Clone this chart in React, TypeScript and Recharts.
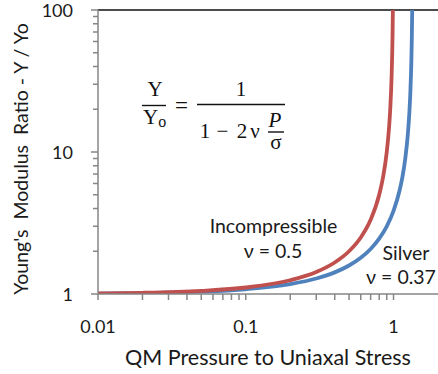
import { Label, Line, LineChart, ReferenceLine, XAxis, YAxis } from 'recharts';

// Pressure-to-stress ratio (P/σ) and modulus ratio Y/Yo for each material.
const incompressibleX = [0.01, 0.02, 0.05, 0.1, 0.2, 0.3, 0.4, 0.5, 0.6, 0.7, 0.8, 0.85, 0.9, 0.93, 0.95, 0.97, 0.98, 0.985, 0.99];
const incompressibleY = [1.01, 1.02, 1.053, 1.111, 1.25, 1.429, 1.667, 2.0, 2.5, 3.33, 5.0, 6.67, 10.0, 14.3, 20.0, 33.3, 50.0, 66.7, 100];

const silverX = [0.01, 0.02, 0.05, 0.1, 0.2, 0.3, 0.4, 0.5, 0.6, 0.7, 0.8, 0.9, 1.0, 1.1, 1.15, 1.2, 1.25, 1.28, 1.3, 1.32, 1.33, 1.338];
const silverY = [1.007, 1.015, 1.038, 1.08, 1.174, 1.285, 1.42, 1.587, 1.799, 2.075, 2.451, 2.994, 3.846, 5.376, 6.711, 8.929, 13.33, 18.94, 26.32, 43.1, 63.3, 100];

const xTicks = [
  0.01, 0.02, 0.03, 0.04, 0.05, 0.06, 0.07, 0.08, 0.09,
  0.1, 0.2, 0.3, 0.4, 0.5, 0.6, 0.7, 0.8, 0.9, 1,
];
const xMajor = [0.01, 0.1, 1];
const yTicks = [1, 2, 3, 4, 5, 6, 7, 8, 9, 10, 20, 30, 40, 50, 60, 70, 80, 90, 100];
const yMajor = [1, 10, 100];

const incompressible = incompressibleX.map((x, i) => ({ x, y: incompressibleY[i] }));
const silver = silverX.map((x, i) => ({ x, y: silverY[i] }));

const W = 438;
const H = 374;
const PLOT_LEFT = 98;
const PLOT_BOTTOM = 294;
const AXIS_GREY = '#868686';
const INK = '#1a1a1a';
const FONT = 'Lato, "Open Sans", sans-serif';
const MATH_FONT = '"Liberation Serif", "DejaVu Serif", serif';
const RED = '#C0504D';
const BLUE = '#4F81BD';

function YTick({ y, payload }: any) {
  const major = yMajor.includes(payload.value);
  return (
    <g>
      <line x1={PLOT_LEFT - (major ? 7 : 5)} x2={PLOT_LEFT} y1={y} y2={y} stroke={AXIS_GREY} strokeWidth={1.5} />
      {major && (
        <text x={73} y={y} textAnchor="end" dominantBaseline="central" fontSize={18} fill={INK} fontFamily={FONT}>
          {payload.value}
        </text>
      )}
    </g>
  );
}

function XTick({ x, payload }: any) {
  const major = xMajor.includes(payload.value);
  return (
    <g>
      <line x1={x} x2={x} y1={PLOT_BOTTOM} y2={PLOT_BOTTOM + 6} stroke={AXIS_GREY} strokeWidth={1.5} />
      {major && (
        <text x={x} y={PLOT_BOTTOM + 32} textAnchor="middle" dominantBaseline="central" fontSize={18} fill={INK} fontFamily={FONT}>
          {payload.value}
        </text>
      )}
    </g>
  );
}

// Y/Yo = 1 / (1 - 2ν P/σ), set piece by piece
function Equation() {
  const t = { fontFamily: MATH_FONT, fontSize: 21, fill: '#111' };
  return (
    <g>
      <text x={155} y={96} textAnchor="middle" {...t}>Y</text>
      <line x1={142} x2={166} y1={105.5} y2={105.5} stroke="#111" strokeWidth={1.4} />
      <text x={143} y={124} {...t}>
        Y<tspan fontSize={16} dy={3}>o</tspan>
      </text>
      <text x={181.5} y={113} textAnchor="middle" {...t} fontSize={23}>=</text>
      <line x1={197} x2={285} y1={104.5} y2={104.5} stroke="#111" strokeWidth={1.4} />
      <text x={241} y={96} textAnchor="middle" {...t}>1</text>
      <text x={205} y={138} textAnchor="middle" {...t}>1</text>
      <text x={222.5} y={138} textAnchor="middle" {...t}>−</text>
      <text x={242} y={138} textAnchor="middle" {...t}>2</text>
      <text x={255} y={138} textAnchor="middle" {...t}>ν</text>
      <text x={275} y={127} textAnchor="middle" fontStyle="italic" {...t}>P</text>
      <line x1={268} x2={284} y1={132} y2={132} stroke="#111" strokeWidth={1.4} />
      <text x={276} y={149} textAnchor="middle" {...t}>σ</text>
    </g>
  );
}

function SeriesNotes() {
  const t = { fontFamily: FONT, fontSize: 19.5, fill: INK, textAnchor: 'middle' as const, dominantBaseline: 'central' as const };
  return (
    <g>
      <text x={273.5} y={225} {...t}>Incompressible</text>
      <text x={273} y={250} {...t}>ν = 0.5</text>
      <text x={406} y={252} {...t}>Silver</text>
      <text x={401} y={276} {...t}>ν = 0.37</text>
    </g>
  );
}

export default function App() {
  return (
    <div style={{ position: 'absolute', left: 0, top: 0, width: W, height: H, background: '#fff' }}>
      <LineChart width={W} height={H} margin={{ top: 10, right: 0, bottom: 0, left: 0 }}>
        <XAxis
          dataKey="x"
          type="number"
          scale="log"
          domain={[0.01, 2]}
          allowDataOverflow
          ticks={xTicks}
          interval={0}
          tick={<XTick />}
          tickLine={false}
          axisLine={{ stroke: AXIS_GREY, strokeWidth: 1.5 }}
          height={80}
        >
          <Label
            value="QM Pressure to Uniaxal Stress"
            position="insideBottom"
            offset={9}
            fontSize={21.5}
            fill={INK}
            fontFamily={FONT}
          />
        </XAxis>
        <YAxis
          dataKey="y"
          type="number"
          scale="log"
          domain={[1, 100]}
          allowDataOverflow
          ticks={yTicks}
          interval={0}
          tick={<YTick />}
          tickLine={false}
          axisLine={{ stroke: AXIS_GREY, strokeWidth: 1.5 }}
          width={PLOT_LEFT}
        />
        <ReferenceLine y={100} stroke="#111" strokeWidth={1.5} />
        <Line data={silver} dataKey="y" stroke={BLUE} strokeWidth={3.8} dot={false} type="monotone" isAnimationActive={false} />
        <Line data={incompressible} dataKey="y" stroke={RED} strokeWidth={3.8} dot={false} type="monotone" isAnimationActive={false} />
      </LineChart>
      <svg width={W} height={H} style={{ position: 'absolute', left: 0, top: 0, pointerEvents: 'none' }}>
        <text
          x={0}
          y={0}
          transform="translate(20 159) rotate(-90)"
          textAnchor="middle"
          dominantBaseline="central"
          fontSize={19.5}
          fill={INK}
          fontFamily={FONT}
          xmlSpace="preserve"
          style={{ whiteSpace: 'pre' }}
        >
          Young's  Modulus  Ratio - Y / Yo
        </text>
        <Equation />
        <SeriesNotes />
      </svg>
    </div>
  );
}
